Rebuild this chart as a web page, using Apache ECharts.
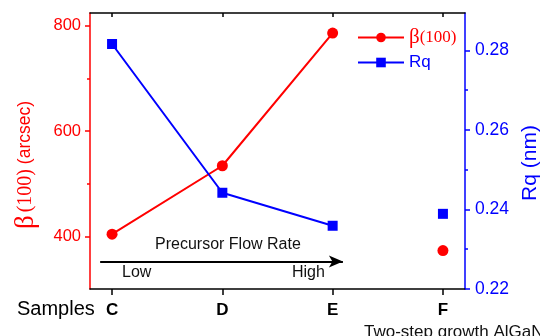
<!DOCTYPE html>
<html>
<head>
<meta charset="utf-8">
<script src="https://cdn.jsdelivr.net/npm/echarts@6/dist/echarts.min.js"></script>
<style>
html,body{margin:0;padding:0;background:#fff;}
#chart{width:540px;height:336px;}
</style>
</head>
<body>
<div id="chart"></div>
<script>
// ---- data ----
const samples = ['C', 'D', 'E', 'F'];
const betaValues = [404, 534, 786, 373];      // β(100) arcsec
const rqValues = [0.2816, 0.2442, 0.2359, 0.2389]; // Rq nm
const connectedCount = 3; // C, D, E are the precursor-flow series; F is separate
const betaTicks = [400, 600, 800];
const betaMinorTicks = [500, 700];
const rqTicks = [0.22, 0.24, 0.26, 0.28];
const rqMinorTicks = [0.23, 0.25, 0.27];
const sampleTicks = [0, 1, 2, 3];

const SANS = 'Liberation Sans, Arial, sans-serif';
const SERIF = 'Liberation Serif, Times New Roman, serif';
const RED = '#ff0000';
const BLUE = '#0000ff';

const betaLine = samples.slice(0, connectedCount).map((s, i) => [i, betaValues[i]]);
const betaSep = samples.slice(connectedCount).map((s, j) => [connectedCount + j, betaValues[connectedCount + j]]);
const rqLine = samples.slice(0, connectedCount).map((s, i) => [i, rqValues[i]]);
const rqSep = samples.slice(connectedCount).map((s, j) => [connectedCount + j, rqValues[connectedCount + j]]);

const chart = echarts.init(document.getElementById('chart'), null, {renderer: 'canvas'});
const option = {
  backgroundColor: '#fff',
  animation: false,
  grid: {left: 90, right: 75, top: 13, bottom: 47, containLabel: false, outerBoundsMode: 'none'},
  legend: {
    orient: 'vertical',
    left: 352,
    top: 22,
    itemWidth: 46,
    itemHeight: 12,
    itemGap: 6,
    data: [{name: 'β(100)'}, {name: 'Rq'}],
    formatter: function (name) {
      return name === 'β(100)' ? '{b|β}{s|(100)}' : '{r|Rq}';
    },
    textStyle: {
      fontFamily: SANS,
      rich: {
        b: {fontFamily: SERIF, fontSize: 21, color: RED, lineHeight: 20},
        s: {fontFamily: SERIF, fontSize: 17, color: RED, lineHeight: 20},
        r: {fontFamily: SANS, fontSize: 17, color: BLUE, lineHeight: 20}
      }
    }
  },
  xAxis: [{
    type: 'value', position: 'bottom', min: -0.2, max: 3.2,
    axisLine: {show: true, onZero: false, lineStyle: {color: '#000', width: 1.5}},
    axisTick: {show: true, length: 6, customValues: sampleTicks, lineStyle: {color: '#000', width: 1.5}},
    axisLabel: {
      customValues: sampleTicks, margin: 13,
      fontFamily: SANS, fontSize: 17, fontWeight: 'bold', color: '#000',
      formatter: v => samples[Math.round(v)] || ''
    },
    splitLine: {show: false}
  }, {
    type: 'value', position: 'top', min: -0.2, max: 3.2,
    axisLine: {show: true, onZero: false, lineStyle: {color: '#000', width: 1.5}},
    axisTick: {show: true, inside: true, length: 4, customValues: sampleTicks, lineStyle: {color: '#000', width: 1.5}},
    axisLabel: {show: false},
    splitLine: {show: false}
  }],
  yAxis: [{
    type: 'value', position: 'left', min: 300, max: 824,
    name: '{b|β}{s|(100)}{t| (arcsec)}', nameLocation: 'middle', nameGap: 51,
    nameTextStyle: {
      fontFamily: SANS, fontSize: 17, color: RED, padding: [0, 28, 0, 0],
      rich: {
        b: {fontFamily: SERIF, fontSize: 27, color: RED, padding: [0, 3, 0, 0]},
        s: {fontFamily: SERIF, fontSize: 20, color: RED},
        t: {fontFamily: SANS, fontSize: 17.5, color: RED}
      }
    },
    axisLine: {show: true, onZero: false, lineStyle: {color: RED, width: 1.5}},
    axisTick: {show: true, length: 5, customValues: betaTicks, lineStyle: {color: RED, width: 1.5}},
    axisLabel: {customValues: betaTicks, margin: 9, fontFamily: SANS, fontSize: 16.5, color: RED},
    splitLine: {show: false}
  }, {
    type: 'value', position: 'right', min: 0.22, max: 0.2894,
    name: 'Rq (nm)', nameLocation: 'middle', nameGap: 53,
    nameTextStyle: {fontFamily: SANS, fontSize: 21, color: BLUE, padding: [0, 24, 0, 0]},
    axisLine: {show: true, onZero: false, lineStyle: {color: BLUE, width: 1.5}},
    axisTick: {show: true, length: 5, customValues: rqTicks, lineStyle: {color: BLUE, width: 1.5}},
    axisLabel: {customValues: rqTicks, margin: 10, fontFamily: SANS, fontSize: 17.5, color: BLUE,
      formatter: v => v.toFixed(2)},
    splitLine: {show: false}
  }, {
    type: 'value', position: 'left', min: 300, max: 824,
    axisLine: {show: false, onZero: false},
    axisTick: {show: true, length: 3, customValues: betaMinorTicks, lineStyle: {color: RED, width: 1.5}},
    axisLabel: {show: false},
    splitLine: {show: false}
  }, {
    type: 'value', position: 'right', min: 0.22, max: 0.2894,
    axisLine: {show: false, onZero: false},
    axisTick: {show: true, length: 3, customValues: rqMinorTicks, lineStyle: {color: BLUE, width: 1.5}},
    axisLabel: {show: false},
    splitLine: {show: false}
  }],
  series: [{
    name: 'β(100)', type: 'line', xAxisIndex: 0, yAxisIndex: 0,
    data: betaLine, symbol: 'circle', symbolSize: 11,
    itemStyle: {color: RED}, lineStyle: {color: RED, width: 2},
    markLine: {
      silent: true, symbol: ['none', 'arrow'], symbolSize: [9, 14],
      label: {show: false},
      lineStyle: {color: '#000', width: 2, type: 'solid'},
      data: [[{coord: [-0.108, 352]}, {coord: [2.093, 352]}]]
    }
  }, {
    name: 'β(100)', type: 'scatter', xAxisIndex: 0, yAxisIndex: 0,
    data: betaSep, symbol: 'circle', symbolSize: 11, itemStyle: {color: RED, opacity: 1}
  }, {
    name: 'Rq', type: 'line', xAxisIndex: 0, yAxisIndex: 1,
    data: rqLine, symbol: 'rect', symbolSize: 10,
    itemStyle: {color: BLUE}, lineStyle: {color: BLUE, width: 2}
  }, {
    name: 'Rq', type: 'scatter', xAxisIndex: 0, yAxisIndex: 1,
    data: rqSep, symbol: 'rect', symbolSize: 10, itemStyle: {color: BLUE, opacity: 1}
  }],
  graphic: [
    {type: 'text', left: 17, top: 299, silent: true,
      style: {text: 'Samples', fontFamily: SANS, fontSize: 20, fill: '#000'}},
    {type: 'text', left: 155, top: 237, silent: true,
      style: {text: 'Precursor Flow Rate', fontFamily: SANS, fontSize: 16, fill: '#111'}},
    {type: 'text', left: 122, top: 265, silent: true,
      style: {text: 'Low', fontFamily: SANS, fontSize: 16, fill: '#111'}},
    {type: 'text', left: 292, top: 265, silent: true,
      style: {text: 'High', fontFamily: SANS, fontSize: 16, fill: '#111'}},
    {type: 'text', left: 364, top: 324, silent: true,
      style: {text: 'Two-step growth AlGaN', fontFamily: SANS, fontSize: 17, fill: '#111'}}
  ]
};
chart.setOption(option);
</script>
</body>
</html>
